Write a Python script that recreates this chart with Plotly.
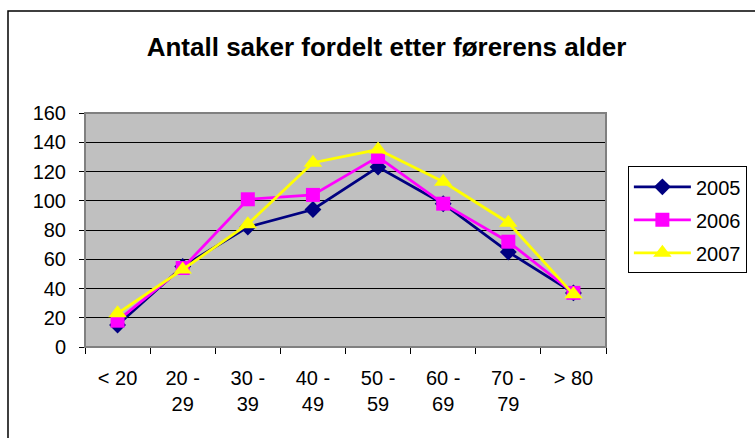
import plotly.graph_objects as go

categories = ["< 20", "20 - 29", "30 - 39", "40 - 49", "50 - 59", "60 - 69", "70 - 79", "> 80"]
tick_labels = ["< 20", "20 -<br>29", "30 -<br>39", "40 -<br>49", "50 -<br>59",
               "60 -<br>69", "70 -<br>79", "> 80"]
series_names = ["2005", "2006", "2007"]
v2005 = [15, 55, 82, 94, 123, 98, 65, 37]
v2006 = [18, 54, 101, 104, 130, 98, 72, 37]
v2007 = [23, 53, 84, 126, 135, 113, 85, 36]
yticks = [0, 20, 40, 60, 80, 100, 120, 140, 160]

colors = ["#000080", "#FF00FF", "#FFFF00"]
symbols = ["diamond", "square", "triangle-up"]
sizes = [13, 14, 16]

fig = go.Figure()
for i, (name, vals) in enumerate(zip(series_names, [v2005, v2006, v2007])):
    fig.add_trace(go.Scatter(
        x=categories, y=vals, name=name, mode="lines+markers",
        legendgroup=name,
        line=dict(color=colors[i], width=2.8),
        marker=dict(symbol=symbols[i], size=sizes[i], color=colors[i]),
        cliponaxis=False,
    ))

fig.update_layout(
    width=755, height=438,
    margin=dict(l=85, r=149, t=113, b=91, autoexpand=False),
    paper_bgcolor="white", plot_bgcolor="#C0C0C0",
    font=dict(family="Arial, Liberation Sans", size=20, color="black"),
    title=dict(text="<b>Antall saker fordelt etter førerens alder</b>",
               x=0.512, xanchor="center", y=0.893, yanchor="middle",
               font=dict(size=26, color="black")),
    showlegend=True,
    legend=dict(x=1.042, xanchor="left", y=0.772, yanchor="top",
                bordercolor="black", borderwidth=1, bgcolor="white",
                tracegroupgap=4, traceorder="grouped", itemwidth=57,
                font=dict(size=20)),
    xaxis=dict(type="category", tickson="boundaries", ticks="outside",
               ticklen=6, tickcolor="black", showgrid=False,
               tickmode="array", tickvals=categories, ticktext=tick_labels,
               ticklabelstandoff=13, automargin=False,
               showline=True, linecolor="black", linewidth=1,
               tickfont=dict(size=20), range=[-0.5, 7.5]),
    yaxis=dict(range=[0, 160], tickvals=yticks, ticks="outside", ticklen=5,
               tickcolor="black", showgrid=True, gridcolor="black",
               ticklabelstandoff=9, automargin=False,
               gridwidth=1, showline=True, linecolor="black", linewidth=1,
               zeroline=False, tickfont=dict(size=20)),
)

# plot area border (gray) and outer chart frame
fig.add_shape(type="rect", xref="paper", yref="paper", x0=0, x1=1, y0=0, y1=1,
              line=dict(color="#808080", width=2), layer="above")
fig.add_shape(type="rect", xref="paper", yref="paper",
              x0=-0.1478, x1=1.3, y0=-0.5, y1=1.436,
              line=dict(color="black", width=1.5))

fig.write_html("out.html", config={"displayModeBar": False},
               post_script="document.body.style.margin='0';")
